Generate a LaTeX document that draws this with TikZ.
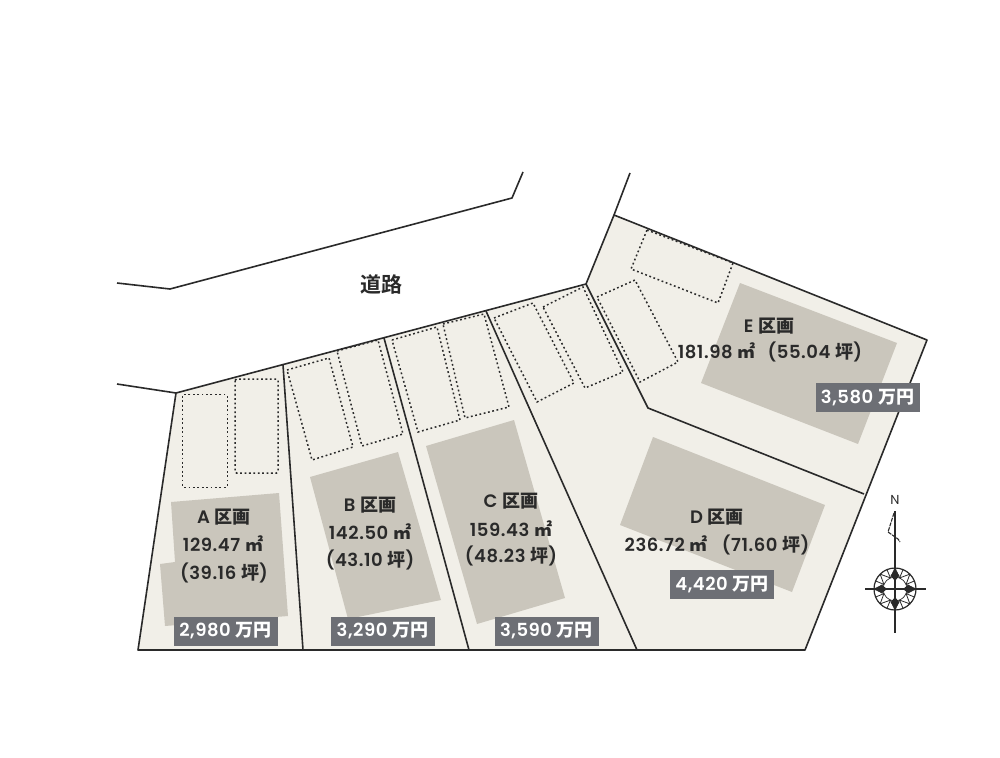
\documentclass[tikz,border=0pt]{standalone}
\usepackage{fontspec}
\setmainfont{Poppins}[BoldFont={Poppins SemiBold},LetterSpace=3]
\newfontfamily\cjk{Noto Sans CJK JP Bold}
\newcommand{\kk}{{\cjk 区画}}
\newcommand{\mm}{{\cjk ㎡}}
\newcommand{\tb}{{\cjk 坪}}
\newcommand{\my}{{\cjk 万円}}
\definecolor{lotfill}{HTML}{F1EFE8}
\definecolor{house}{HTML}{CAC6BC}
\definecolor{tag}{HTML}{6D6F75}
\definecolor{ink}{HTML}{2A2A2A}
\tikzset{
  lotline/.style={draw=ink,line width=1.6pt,line join=round},
  parcel/.style={draw=ink,line width=1.5pt,dash pattern=on 1.8pt off 2.6pt},
  housebox/.style={fill=house,draw=none},
  lbl/.style={text=ink,font=\fontsize{18}{20}\selectfont\bfseries,inner sep=0pt,anchor=center},
  price/.style={fill=tag,text=white,font=\fontsize{18}{20}\selectfont\bfseries,inner sep=0pt,minimum width=104pt,minimum height=29pt,anchor=center},
}
\begin{document}
\begin{tikzpicture}[x=1pt,y=-1pt]
\useasboundingbox (0,0) rectangle (1000,757);
\fill[white] (0,0) rectangle (1000,757);
% lot
\fill[lotfill] (138,650) -- (176,393) -- (586,284) -- (614,215) -- (927,340) -- (805,650) -- cycle;
% houses
\fill[housebox] (171,502) -- (279,493) -- (288,616) -- (165,626) -- (160,564) -- (175,562) -- cycle;
\fill[housebox] (310,477) -- (398,452) -- (441,600) -- (348,619) -- cycle;
\fill[housebox] (426,446) -- (514,420) -- (565,598) -- (477,624) -- cycle;
\fill[housebox] (653,437) -- (825,505) -- (792,592) -- (620,525) -- cycle;
\fill[housebox] (740,283) -- (897,343) -- (858,444) -- (701,383) -- cycle;
% parcels
\draw[parcel,rounded corners=1.5pt] (182.4,394.4) rectangle (227.4,487.4);
\draw[parcel,rounded corners=1.5pt] (235,379) rectangle (278,473);
\draw[parcel] (287,370) -- (329,358) -- (353,447) -- (312,460) -- cycle;
\draw[parcel] (337,351) -- (378,340) -- (403,434) -- (362,446) -- cycle;
\draw[parcel] (392,340) -- (437,327) -- (460,420) -- (418,432) -- cycle;
\draw[parcel] (443,324) -- (484,314) -- (509,407) -- (465,418) -- cycle;
\draw[parcel] (494,318) -- (533,303) -- (574,383) -- (537,402) -- cycle;
\draw[parcel] (543,307) -- (583,287) -- (623,372) -- (585,388) -- cycle;
\draw[parcel] (597,297) -- (635,280) -- (678,362) -- (640,382) -- cycle;
\draw[parcel] (647,230) -- (733,263) -- (718,303) -- (631,269) -- cycle;
% lot outline and dividers
\draw[lotline] (138,650) -- (176,393) -- (586,284) -- (614,215) -- (927,340) -- (805,650) -- cycle;
\draw[lotline] (283,365) -- (303,650);
\draw[lotline] (384,338) -- (469,650);
\draw[lotline] (486,311) -- (637,650);
\draw[lotline] (586,284) -- (648,408) -- (864,494);
% roads
\draw[lotline] (117,283) -- (170,289) -- (512,198) -- (523,172);
\draw[lotline] (117,384) -- (176,393);
\draw[lotline] (614,215) -- (630,173);
% labels
\node[lbl,font=\fontsize{21}{23}\selectfont\cjk] (road) at (381,284) {道路};
\node[lbl] (a1) at (224,517) {A \kk};
\node[lbl] (a2) at (223,544) {129.47 \mm};
\node[lbl] (a3) at (224,573) {(39.16 \tb)};
\node[lbl] (b1) at (370,505) {B \kk};
\node[lbl] (b2) at (370,532) {142.50 \mm};
\node[lbl] (b3) at (370,560) {(43.10 \tb)};
\node[lbl] (c1) at (511,501) {C \kk};
\node[lbl] (c2) at (511,529) {159.43 \mm};
\node[lbl] (c3) at (511,556) {(48.23 \tb)};
\node[lbl] (d1) at (717,517) {D \kk};
\node[lbl] (d2) at (717,545) {236.72\hspace{5pt}\mm\hspace{14pt}(71.60\hspace{5pt}\tb)};
\node[lbl] (e1) at (769,326) {E \kk};
\node[lbl] (e2) at (770,352) {181.98\hspace{5pt}\mm\hspace{12pt}(55.04\hspace{5pt}\tb)};
\node[price] (pa) at (225.5,631) {2,980 \my};
\node[price] (pb) at (382.5,631) {3,290 \my};
\node[price] (pc) at (546.5,631) {3,590 \my};
\node[price] (pd) at (722,584.5) {4,420 \my};
\node[price] (pe) at (867.5,397.5) {3,580 \my};
% compass
\begin{scope}[shift={(895,589)}]
\draw[ink,line width=1.1pt] (0,-78) -- (0,44);
\draw[ink,line width=1.1pt] (-30,0) -- (31,0);
\draw[ink,line width=1.2pt] (0,0) circle (21);
\draw[ink,line width=0.7pt] (0,0) circle (12);
\foreach \a in {0,45,...,315}{
  \draw[ink,line width=0.8pt] (\a:21) -- (\a+22.5:12) -- (\a+45:21);
  \draw[ink,line width=0.8pt] (\a+22.5:21) -- (\a+22.5:12);
}
\foreach \a in {0,90,180,270}{
  \fill[ink] (\a:20) -- (\a+18:14) -- (\a:8) -- (\a-18:14) -- cycle;
}
\draw[ink,line width=1.1pt,dash pattern=on 4pt off 1pt] (-1,-76) -- (-7,-57) -- (3,-50) -- (5,-47);
\end{scope}
\node[lbl,font=\fontsize{13}{14}\selectfont] (north) at (895,500) {N};
\end{tikzpicture}
\end{document}
